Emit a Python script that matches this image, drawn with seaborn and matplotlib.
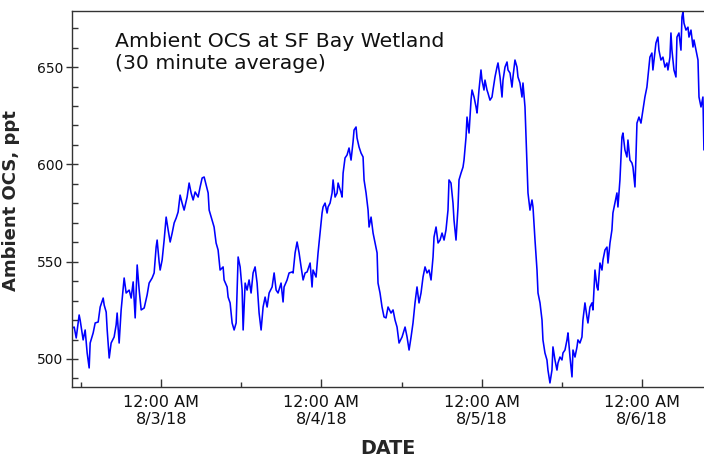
import matplotlib
matplotlib.use("Agg")
import matplotlib.pyplot as plt
import matplotlib.dates as mdates
from matplotlib.ticker import MultipleLocator, FuncFormatter
import numpy as np
import pandas as pd
import seaborn as sns

# Hours relative to 8/3/18 12:00 AM
hours = [-13.32, -13.02, -12.72, -12.28, -12.13, -11.68, -11.38, -11.08, -10.78, -10.63,
         -10.18, -9.88, -9.43, -9.13, -8.68, -8.53, -8.23, -8.08, -7.78, -7.49,
         -7.04, -6.74, -6.59, -6.29, -5.99, -5.54, -5.24, -4.79, -4.49, -4.19,
         -3.89, -3.59, -3.29, -2.99, -2.54, -2.10, -1.80, -1.35, -1.05, -0.75,
         -0.60, -0.30, -0.15, 0.15, 0.45, 0.75, 1.05, 1.35, 1.65, 1.95,
         2.25, 2.54, 2.84, 3.14, 3.44, 3.89, 4.19, 4.49, 4.79, 5.09,
         5.54, 5.84, 6.14, 6.44, 6.74, 7.04, 7.19, 7.63, 7.93, 8.23,
         8.53, 8.83, 9.28, 9.43, 9.88, 10.03, 10.33, 10.63, 10.93, 11.23,
         11.53, 11.83, 12.13, 12.28, 12.58, 12.87, 13.17, 13.47, 13.77, 14.07,
         14.37, 14.67, 14.97, 15.27, 15.57, 15.87, 16.17, 16.62, 16.92, 17.22,
         17.51, 17.96, 18.26, 18.41, 18.86, 19.16, 19.61, 19.76, 20.06, 20.36,
         20.66, 20.96, 21.26, 21.56, 21.86, 22.31, 22.60, 22.75, 23.20, 23.50,
         23.80, 24.10, 24.25, 24.55, 24.85, 25.00, 25.30, 25.60, 25.75, 26.05,
         26.35, 26.50, 26.95, 27.10, 27.25, 27.54, 27.84, 28.14, 28.44, 28.74,
         28.89, 29.19, 29.34, 29.64, 29.94, 30.24, 30.39, 30.69, 30.99, 31.14,
         31.44, 31.74, 32.04, 32.34, 32.48, 32.78, 33.08, 33.38, 33.68, 33.98,
         34.43, 34.73, 35.03, 35.33, 35.63, 36.08, 36.53, 36.83, 37.13, 37.43,
         37.72, 38.02, 38.32, 38.62, 38.92, 39.22, 39.52, 39.82, 40.12, 40.42,
         40.72, 40.87, 41.17, 41.47, 41.77, 42.07, 42.37, 42.66, 42.96, 43.11,
         43.41, 43.71, 43.86, 44.16, 44.46, 44.61, 44.91, 45.21, 45.36, 45.66,
         45.81, 46.11, 46.41, 46.56, 46.86, 47.16, 47.31, 47.60, 47.90, 48.05,
         48.35, 48.50, 48.80, 48.95, 49.25, 49.55, 49.70, 50.00, 50.30, 50.45,
         50.75, 51.05, 51.20, 51.50, 51.80, 51.95, 52.25, 52.54, 52.69, 52.99,
         53.29, 53.44, 53.74, 54.04, 54.19, 54.49, 54.79, 54.94, 55.24, 55.54,
         55.69, 55.99, 56.29, 56.44, 56.74, 57.04, 57.18, 57.48, 57.78, 57.93,
         58.23, 58.53, 58.68, 58.98, 59.28, 59.43, 59.73, 60.03, 60.18, 60.48,
         60.78, 60.93, 61.23, 61.53, 61.68, 61.98, 62.28, 62.42, 62.72, 63.02,
         63.17, 63.47, 63.77, 63.92, 64.22, 64.52, 64.67, 64.97, 65.27, 65.42,
         65.72, 66.02, 66.17, 66.47, 66.77, 66.92, 67.22, 67.51, 67.66, 67.96,
         68.26, 68.41, 68.71, 69.01, 69.16, 69.46, 69.76, 69.91, 70.21, 70.51,
         70.66, 70.96, 71.11, 71.26, 71.56, 71.86, 72.16, 72.45, 72.75, 72.90,
         73.20, 73.50, 73.65, 74.10, 74.40, 74.55, 74.85, 75.15, 75.45, 75.75,
         75.90, 76.20, 76.35, 76.50, 76.80, 77.10, 77.25, 77.55, 77.85, 78.00,
         78.15, 78.30, 78.60, 78.90, 79.05, 79.35, 79.65, 79.80, 80.10, 80.40,
         80.55, 80.85, 81.14, 81.29]

ocs_ppt = [515.9, 516.4, 510.8, 522.6, 520.0, 509.8, 514.9, 503.1, 495.4, 508.2,
           513.4, 518.5, 519.0, 526.7, 531.3, 527.7, 524.1, 514.9, 500.5, 508.2,
           511.3, 517.5, 523.6, 508.2, 525.2, 541.6, 533.9, 535.4, 531.3, 539.6,
           521.1, 548.3, 535.4, 525.2, 526.2, 532.9, 539.0, 541.6, 544.2, 557.5,
           561.1, 549.8, 545.7, 550.9, 561.1, 572.9, 566.3, 560.1, 564.7, 569.9,
           572.4, 575.5, 584.2, 580.1, 576.5, 583.2, 590.4, 585.3, 581.7, 585.8,
           583.2, 588.4, 593.0, 593.5, 589.4, 585.3, 576.5, 571.4, 567.8, 559.6,
           556.0, 545.7, 547.3, 540.6, 537.0, 531.8, 528.8, 518.5, 514.9, 518.5,
           552.4, 547.3, 535.4, 514.9, 539.0, 535.4, 540.6, 533.9, 544.2, 547.3,
           539.0, 523.6, 514.9, 526.7, 531.8, 526.7, 533.9, 537.0, 544.2, 535.4,
           533.9, 539.0, 529.3, 537.0, 540.6, 544.2, 544.7, 544.2, 554.5, 560.1,
           554.5, 547.3, 540.6, 544.2, 544.7, 549.3, 537.0, 545.7, 542.1, 554.5,
           564.7, 575.0, 578.1, 580.1, 575.0, 578.1, 580.1, 585.3, 592.0, 583.2,
           585.3, 590.4, 585.3, 583.2, 595.5, 603.3, 604.8, 608.4, 602.2, 611.5,
           617.6, 619.2, 613.5, 608.9, 605.8, 603.8, 592.0, 585.3, 576.5, 567.8,
           572.9, 564.7, 559.6, 554.5, 539.0, 533.9, 526.7, 521.6, 521.1, 526.7,
           523.6, 525.2, 520.0, 516.4, 508.2, 511.3, 516.4, 511.3, 504.6, 511.3,
           518.5, 528.8, 537.0, 528.8, 533.9, 542.1, 547.3, 544.2, 545.7, 540.6,
           552.4, 562.7, 567.8, 559.6, 561.1, 564.7, 561.1, 566.3, 576.5, 592.0,
           590.4, 580.1, 571.4, 561.1, 578.1, 592.0, 595.5, 598.6, 602.2, 614.0,
           624.3, 616.1, 633.0, 638.2, 634.6, 629.5, 626.4, 638.2, 648.5, 643.3,
           638.2, 643.3, 638.2, 636.6, 633.0, 634.6, 638.2, 644.9, 650.0, 652.1,
           644.9, 634.6, 643.3, 650.0, 652.6, 648.5, 646.9, 639.7, 644.9, 653.6,
           650.0, 644.9, 641.8, 634.6, 641.8, 629.5, 600.7, 585.3, 576.5, 581.7,
           578.1, 561.1, 545.7, 533.9, 528.8, 520.0, 509.8, 503.1, 499.5, 494.3,
           487.7, 494.3, 506.2, 499.5, 494.3, 497.9, 501.0, 499.5, 503.1, 504.6,
           509.8, 513.4, 501.0, 490.8, 504.6, 501.0, 506.2, 509.8, 508.2, 511.3,
           520.0, 528.8, 521.6, 518.5, 526.7, 528.8, 525.2, 545.7, 537.0, 535.4,
           549.3, 545.7, 550.9, 556.0, 557.5, 549.3, 559.6, 566.3, 575.0, 580.1,
           585.3, 578.1, 592.0, 614.0, 616.1, 607.4, 603.8, 612.5, 602.2, 600.7,
           598.6, 588.4, 603.8, 621.2, 624.3, 621.2, 627.9, 634.6, 639.7, 644.9,
           655.1, 657.2, 648.5, 662.3, 665.4, 658.7, 653.6, 655.1, 650.0, 652.1,
           648.5, 655.1, 667.5, 658.7, 648.5, 644.9, 665.4, 667.5, 658.7, 675.7,
           678.3, 672.6, 669.0, 670.5, 665.4, 669.0, 660.3, 663.9, 658.7, 653.6,
           634.6, 629.5, 634.6, 607.4]

title_lines = ["Ambient OCS at SF Bay Wetland", "(30 minute average)"]
y_label = "Ambient OCS, ppt"
x_label = "DATE"
y_major = [500, 550, 600, 650]

sns.set_theme(style="white")
plt.rcParams["font.family"] = ["DejaVu Sans"]

t0 = pd.Timestamp("2018-08-03 00:00")
df = pd.DataFrame({"time": t0 + pd.to_timedelta(hours, unit="h"), "ocs": ocs_ppt})

fig = plt.figure(figsize=(7.04, 4.62), dpi=100)
ax = fig.add_axes([72 / 704, 1 - 387 / 462, 632 / 704, 376 / 462])
sns.lineplot(data=df, x="time", y="ocs", ax=ax, color="#0000ff", lw=1.15,
             estimator=None, sort=False)

ax.set_xlim(t0 + pd.Timedelta(hours=-13.35), t0 + pd.Timedelta(hours=81.3))
ax.set_ylim(485.6, 678.8)

ax.xaxis.set_major_locator(mdates.DayLocator())
ax.xaxis.set_minor_locator(mdates.HourLocator(byhour=[12]))


def fmt_date(v, pos=None):
    d = mdates.num2date(v)
    return f"{d.strftime('%I:%M %p')}\n{d.month}/{d.day}/{d.strftime('%y')}"


ax.xaxis.set_major_formatter(FuncFormatter(fmt_date))
ax.set_yticks(y_major)
ax.yaxis.set_minor_locator(MultipleLocator(10))

ax.tick_params(axis="x", which="major", direction="in", length=6, width=1,
               color="#333333", labelsize=11.5, pad=6, labelcolor="#111111")
ax.tick_params(axis="x", which="minor", direction="in", length=3.5, width=1,
               color="#333333")
ax.tick_params(axis="y", which="major", direction="inout", length=9, width=1,
               color="#333333", labelsize=10, pad=2, labelcolor="#111111")
ax.tick_params(axis="y", which="minor", direction="in", length=4.5, width=1,
               color="#333333")
ax.tick_params(bottom=True, left=True, which="both")
for lab in ax.get_xticklabels():
    lab.set_linespacing(1.1)

for side in ["left", "bottom", "top"]:
    ax.spines[side].set_visible(True)
    ax.spines[side].set_color("#333333")
    ax.spines[side].set_linewidth(1.0)
ax.spines["right"].set_visible(False)

ax.set_xlabel(x_label, fontsize=13.8, fontweight="bold", labelpad=9)
ax.set_ylabel(y_label, fontsize=13, fontweight="bold", labelpad=9)
ax.yaxis.set_label_coords(-0.083, 0.495)

ax.text(0.068, 0.945, "\n".join(title_lines), transform=ax.transAxes,
        va="top", ha="left", fontsize=14.7, linespacing=1.25, color="#111111")

fig.savefig("out.png", dpi=100)
